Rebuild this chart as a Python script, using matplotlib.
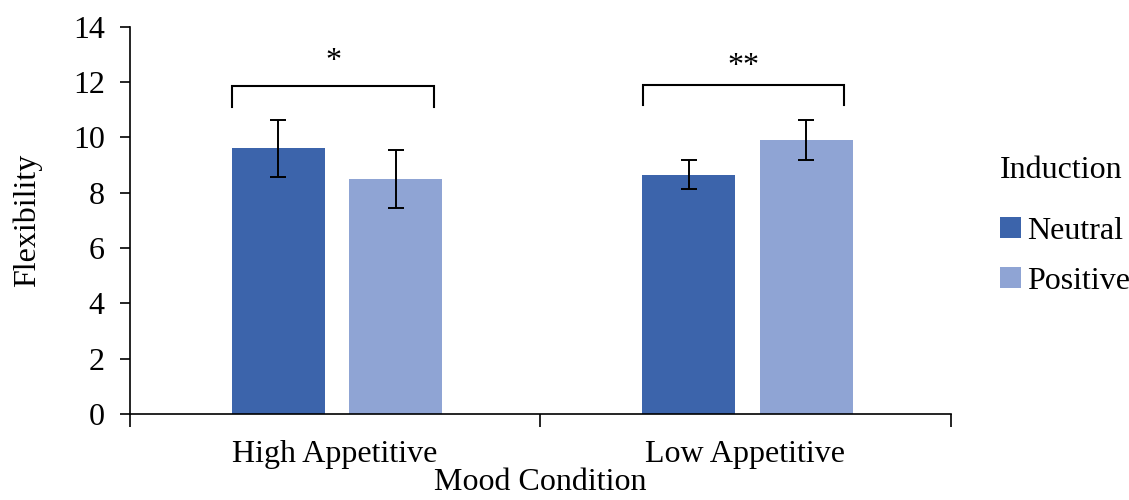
import matplotlib
matplotlib.use("Agg")
import matplotlib.pyplot as plt
import numpy as np
from matplotlib.patches import Patch

plt.rcParams['font.family'] = ['Liberation Serif', 'DejaVu Serif']

categories = ["High Appetitive", "Low Appetitive"]
series = ["Neutral", "Positive"]
means = {"Neutral": [9.6, 8.65], "Positive": [8.5, 9.9]}
errors = {"Neutral": [1.03, 0.53], "Positive": [1.04, 0.73]}
significance = ["*", "**"]
bracket_levels = [11.85, 11.9]
colors = {"Neutral": "#3C64AB", "Positive": "#8FA4D4"}

FS = 23

fig = plt.figure(figsize=(11.29, 5), dpi=100)
ax = fig.add_axes([0.115, 0.172, 0.727, 0.775])

centers = np.arange(len(categories)) + 0.5
width = 0.226
offsets = {"Neutral": -0.138, "Positive": 0.148}

for s in series:
    ax.bar(centers + offsets[s], means[s], width=width, color=colors[s],
           label=s, zorder=2)
    ax.errorbar(centers + offsets[s], means[s], yerr=errors[s], fmt="none",
                ecolor="black", elinewidth=1.4, capsize=6, capthick=1.4,
                zorder=3)

star_gap = [0.37, 0.12]
for c, mark, lvl, gap in zip(centers, significance, bracket_levels, star_gap):
    x0, x1 = c - 0.25, c + 0.24
    ax.plot([x0, x0, x1, x1], [lvl - 0.75, lvl, lvl, lvl - 0.75],
            color="black", lw=1.5, solid_joinstyle="miter", zorder=3)
    ax.text((x0 + x1) / 2, lvl + gap, mark, ha="center", va="bottom",
            fontsize=FS)

ax.set_xlim(0, len(categories))
ax.set_ylim(0, 14)
ax.set_yticks(np.arange(0, 15, 2))
ax.set_xticks(np.arange(len(categories) + 1))
ax.set_xticklabels([])
ax.set_xticks(centers, minor=True)
ax.set_xticklabels(categories, minor=True)
ax.tick_params(axis="x", which="minor", length=0, pad=19, labelsize=FS)
ax.tick_params(axis="x", which="major", length=9, width=1.2, direction="out")
ax.tick_params(axis="y", length=7, width=1.2, direction="out", labelsize=FS,
               pad=11)

for side in ("top", "right"):
    ax.spines[side].set_visible(False)
for side in ("left", "bottom"):
    ax.spines[side].set_linewidth(1.2)

ax.set_ylabel("Flexibility", fontsize=FS, labelpad=22)
ax.set_xlabel("Mood Condition", fontsize=FS)
ax.xaxis.set_label_coords(0.5, -0.178)
ax.xaxis.label.set_va("center")

handles = [Patch(facecolor=colors[s], label=s) for s in series]
leg = fig.legend(handles=handles, title="Induction", loc="upper left",
                 bbox_to_anchor=(0.886, 0.688), frameon=False, fontsize=FS,
                 title_fontsize=FS, handlelength=0.65, handleheight=0.65,
                 handletextpad=0.2, labelspacing=0.66, borderpad=0,
                 borderaxespad=0)
leg._legend_box.sep = 23
leg._legend_box.align = "left"

fig.savefig("out.png", dpi=100)
